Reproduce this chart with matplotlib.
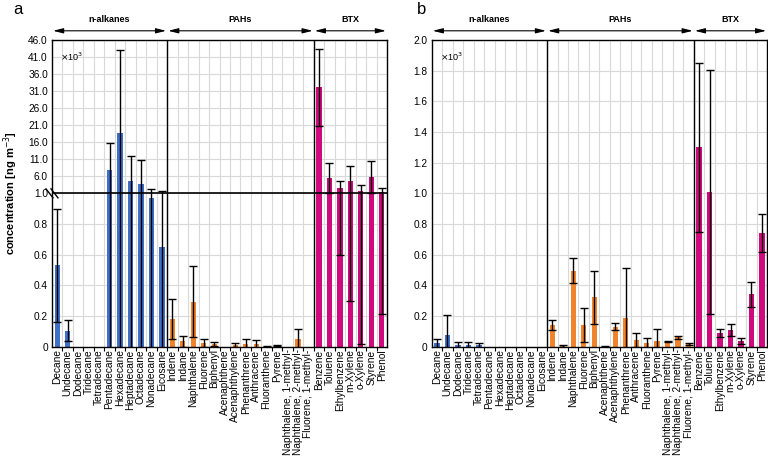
import numpy as np
import matplotlib.pyplot as plt
from matplotlib import transforms

plt.rcParams['font.family'] = ['Liberation Sans', 'DejaVu Sans']

alkanes = ["Decane", "Undecane", "Dodecane", "Tridecane", "Tetradecane", "Pentadecane",
           "Hexadecane", "Heptadecane", "Octadecane", "Nonadecane", "Eicosane"]
pahs = ["Indene", "Indane", "Naphthalene", "Fluorene", "Biphenyl", "Acenaphthene",
        "Acenaphthylene", "Phenanthrene", "Anthracene", "Fluoranthene", "Pyrene",
        "Naphthalene, 1-methyl-", "Naphthalene, 2-methyl-", "Fluorene, 1-methyl-"]
btx = ["Benzene", "Toluene", "Ethylbenzene", "m-Xylene", "o-Xylene", "Styrene", "Phenol"]
group_names = ["n-alkanes", "PAHs", "BTX"]
group_colors = ["#3f6fc6", "#f0832e", "#cf0a7c"]

# panel a (x10^3 ng m-3)
mean_a = [0.53, 0.105, 0, 0, 0, 7.8, 18.7, 4.5, 3.85, 0.97, 0.652,
          0.18, 0.035, 0.294, 0.022, 0.02, 0, 0.01, 0.02, 0.018, 0.003, 0.007, 0, 0.052, 0,
          32.1, 5.5, 2.6, 4.6, 1.7, 5.75, 1.45]
sd_a = [0.37, 0.066, 0, 0, 0, 8.1, 24.4, 7.6, 7.05, 1.33, 1.05,
        0.13, 0.037, 0.232, 0.027, 0.013, 0, 0.015, 0.027, 0.027, 0.002, 0.003, 0, 0.062, 0,
        11.2, 4.5, 2.0, 4.3, 1.68, 4.75, 1.24]

# panel b (x10^3 ng m-3)
mean_b = [0.022, 0.076, 0.01, 0.012, 0.01, 0, 0, 0, 0, 0, 0,
          0.141, 0.004, 0.496, 0.141, 0.322, 0.003, 0.13, 0.185, 0.041, 0.022, 0.035, 0.033, 0.06, 0.019,
          1.30, 1.01, 0.087, 0.11, 0.038, 0.342, 0.74]
sd_b = [0.028, 0.128, 0.022, 0.021, 0.016, 0, 0, 0, 0, 0, 0,
        0.035, 0.004, 0.082, 0.11, 0.174, 0.002, 0.024, 0.325, 0.046, 0.032, 0.08, 0.005, 0.011, 0.008,
        0.55, 0.795, 0.026, 0.037, 0.02, 0.082, 0.123]

ticks_a = [0, 0.2, 0.4, 0.6, 0.8, 1.0, 6, 11, 16, 21, 26, 31, 36, 41, 46]
ticks_b = [0, 0.2, 0.4, 0.6, 0.8, 1.0, 1.2, 1.4, 1.6, 1.8, 2.0]


def broken(y):
    y = np.asarray(y, dtype=float)
    return np.where(y <= 1, y, 1 + (y - 1) / 45.)


def unbroken(z):
    z = np.asarray(z, dtype=float)
    return np.where(z <= 1, z, 1 + (z - 1) * 45.)


def draw_panel(ax, means, sds, ticks):
    labels = alkanes + pahs + btx
    sizes = [len(alkanes), len(pahs), len(btx)]
    colors = []
    for c, n in zip(group_colors, sizes):
        colors += [c] * n
    x = np.arange(len(labels))
    means = np.array(means)
    sds = np.array(sds)

    ax.set_axisbelow(True)
    ax.bar(x, means, width=0.5, color=colors, zorder=2)
    m = sds > 0
    ax.errorbar(x[m], means[m], yerr=sds[m], fmt='none', ecolor='black',
                elinewidth=1, capsize=2.6, capthick=1, zorder=3)

    ax.set_xlim(-0.5, len(labels) - 0.5)
    ax.set_ylim(ticks[0], ticks[-1])
    ax.set_yticks(ticks)
    ax.set_yticklabels(['0' if t == 0 else '{:.1f}'.format(t) for t in ticks])
    ax.set_xticks(x)
    ax.set_xticklabels(labels, rotation=90)
    ax.set_xticks(x[:-1] + 0.5, minor=True)
    ax.tick_params(axis='x', which='major', length=0, labelsize=7.3, pad=2)
    ax.tick_params(axis='x', which='minor', length=3, width=0.8)
    ax.tick_params(axis='y', length=0, labelsize=7.3, pad=3)
    ax.grid(axis='y', which='major', color='#d9d9d9', lw=0.8)
    ax.grid(axis='x', which='minor', color='#d9d9d9', lw=0.8)
    for s in ax.spines.values():
        s.set_linewidth(1)

    # group separators and arrows
    bounds = np.cumsum([0] + sizes) - 0.5
    for b in bounds[1:-1]:
        ax.axvline(b, color='black', lw=1, zorder=4)
    trans = transforms.blended_transform_factory(ax.transData, ax.transAxes)
    for name, b0, b1 in zip(group_names, bounds[:-1], bounds[1:]):
        ax.annotate('', xy=(b0 + 0.1, 1.03), xytext=(b1 - 0.1, 1.03), xycoords=trans,
                    textcoords=trans, annotation_clip=False,
                    arrowprops=dict(arrowstyle='<|-|>,head_length=0.6,head_width=0.15',
                                    color='black', lw=0.8, shrinkA=0, shrinkB=0))
        ax.text((b0 + b1) / 2, 1.066, name, transform=trans, ha='center', va='center',
                fontsize=6.5, fontweight='bold')

    ax.text(0.025, 0.965, r'$\times$10$^3$', transform=ax.transAxes, fontsize=6.5,
            ha='left', va='top')


fig = plt.figure(figsize=(7.68, 4.63), dpi=100)
ax1 = fig.add_axes([52 / 768, 1 - 346.7 / 463, 335 / 768, 306.7 / 463])
ax2 = fig.add_axes([431.7 / 768, 1 - 346.7 / 463, 335.5 / 768, 306.7 / 463])

ax1.set_yscale('function', functions=(broken, unbroken))
draw_panel(ax1, mean_a, sd_a, ticks_a)
draw_panel(ax2, mean_b, sd_b, ticks_b)

fig.text(13 / 768, 1 - 13.5 / 463, 'a', fontsize=12, ha='left', va='baseline')
fig.text(417 / 768, 1 - 13.5 / 463, 'b', fontsize=12, ha='left', va='baseline')

# break on panel a
ax1.axhline(1.0, color='black', lw=1.2, zorder=4)
w = 335.
h = 306.7
for dx in (-2.5, 2.5):
    ax1.plot([(dx - 3.5) / w, (dx + 3.5) / w], [0.5 + 4.5 / h, 0.5 - 4.5 / h],
             transform=ax1.transAxes, color='black', lw=1, clip_on=False, zorder=5)

ax1.set_ylabel('concentration [ng m$^{-3}$]', fontsize=8, fontweight='bold', labelpad=6)

fig.savefig('out.png', dpi=100)
